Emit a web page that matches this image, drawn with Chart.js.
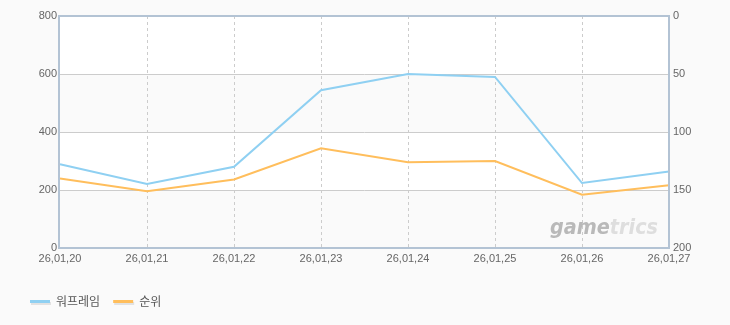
<!DOCTYPE html>
<html>
<head>
<meta charset="utf-8">
<script src="https://cdn.jsdelivr.net/npm/chart.js@4"></script>
<style>
  html, body { margin: 0; padding: 0; background: #fafafa; }
  #wrap { width: 730px; height: 325px; position: relative; }
</style>
</head>
<body>
<div id="wrap"><canvas id="chart"></canvas></div>
<script>
const dates = ['26,01,20', '26,01,21', '26,01,22', '26,01,23',
               '26,01,24', '26,01,25', '26,01,26', '26,01,27'];
const players = [289, 221, 280, 544, 600, 590, 224, 264];
const rank = [140, 151, 141, 114, 126, 125, 154, 146];
const leftTicks = [0, 200, 400, 600, 800];
const rightTicks = [0, 50, 100, 150, 200];

const tickFont = { family: 'Liberation Sans, Arial, sans-serif', size: 11 };

// alternating bands + frame + watermark + legend
const decor = {
  id: 'decor',
  beforeDatasetsDraw(chart) {
    const { ctx, chartArea: a, scales } = chart;
    const y = scales.y;
    ctx.save();
    for (let i = 0; i < leftTicks.length - 1; i++) {
      const top = y.getPixelForValue(leftTicks[i + 1]);
      const bot = y.getPixelForValue(leftTicks[i]);
      ctx.fillStyle = (i % 2 === 0) ? '#fafafa' : '#ffffff';
      ctx.fillRect(a.left, top, a.right - a.left, bot - top);
    }
    // grid over the bands
    ctx.strokeStyle = '#cccccc';
    ctx.lineWidth = 1;
    leftTicks.slice(1, -1).forEach(v => {
      const py = Math.round(y.getPixelForValue(v)) + 0.5;
      ctx.beginPath(); ctx.moveTo(a.left, py); ctx.lineTo(a.right, py); ctx.stroke();
    });
    ctx.setLineDash([3, 3]);
    dates.forEach((d, i) => {
      if (i === 0 || i === dates.length - 1) return;
      const px = Math.round(scales.x.getPixelForValue(i)) + 0.5;
      ctx.beginPath(); ctx.moveTo(px, a.top); ctx.lineTo(px, a.bottom); ctx.stroke();
    });
    ctx.setLineDash([]);
    // watermark, squeezed into the bottom-right corner
    ctx.font = 'italic bold 22px "DejaVu Sans", sans-serif';
    ctx.textBaseline = 'alphabetic';
    const w1 = ctx.measureText('game').width;
    const w2 = ctx.measureText('trics').width;
    const sx = 108 / (w1 + w2);
    ctx.translate(550, 234);
    ctx.scale(sx, 1);
    ctx.fillStyle = '#b9b9b9';
    ctx.fillText('game', 0, 0);
    ctx.fillStyle = '#dedede';
    ctx.fillText('trics', w1, 0);
    ctx.restore();
  },
  afterDatasetsDraw(chart) {
    const { ctx, chartArea: a } = chart;
    ctx.save();
    ctx.strokeStyle = '#b3c3d4';
    ctx.lineWidth = 2;
    ctx.strokeRect(a.left - 1, a.top, a.right - a.left + 1, a.bottom - a.top);
    ctx.restore();
  },
  afterDraw(chart) {
    const { ctx } = chart;
    ctx.save();
    ctx.font = '12px "Noto Sans CJK KR", sans-serif';
    ctx.textBaseline = 'middle';
    let x = 30;
    chart.data.datasets.forEach(ds => {
      ctx.fillStyle = '#e2e2e2';
      ctx.fillRect(x + 1, 302, 20, 3);
      ctx.fillStyle = ds.borderColor;
      ctx.fillRect(x, 300, 20, 3);
      ctx.fillStyle = '#555';
      ctx.fillText(ds.label, x + 26, 301);
      x += 26 + ctx.measureText(ds.label).width + 13;
    });
    ctx.restore();
  }
};

new Chart(document.getElementById('chart'), {
  type: 'line',
  data: {
    labels: dates,
    datasets: [{
      label: '워프레임',
      data: players,
      yAxisID: 'y',
      borderColor: '#8fd0f2',
      borderWidth: 2,
      pointRadius: 0,
      tension: 0
    }, {
      label: '순위',
      data: rank,
      yAxisID: 'y2',
      borderColor: '#ffbe5c',
      borderWidth: 2,
      pointRadius: 0,
      tension: 0
    }]
  },
  options: {
    responsive: true,
    maintainAspectRatio: false,
    animation: false,
    layout: { padding: { top: 16, left: 0, right: 0, bottom: 0 } },
    plugins: {
      legend: { display: false },
      tooltip: { enabled: false }
    },
    scales: {
      x: {
        offset: false,
        grid: { display: false },
        border: { display: false },
        ticks: { color: '#666', font: tickFont, maxRotation: 0, autoSkip: false, padding: -4 },
        afterFit(s) { s.height = 77; }
      },
      y: {
        position: 'left',
        min: 0, max: 800,
        afterBuildTicks(s) { s.ticks = leftTicks.map(v => ({ value: v })); },
        grid: { display: false },
        border: { display: false },
        ticks: { color: '#666', font: tickFont, padding: -5 },
        afterFit(s) { s.width = 60; }
      },
      y2: {
        position: 'right',
        reverse: true,
        min: 0, max: 200,
        afterBuildTicks(s) { s.ticks = rightTicks.map(v => ({ value: v })); },
        grid: { display: false },
        border: { display: false },
        ticks: { color: '#666', font: tickFont, padding: -4 },
        afterFit(s) { s.width = 61; }
      }
    }
  },
  plugins: [decor]
});
</script>
</body>
</html>
